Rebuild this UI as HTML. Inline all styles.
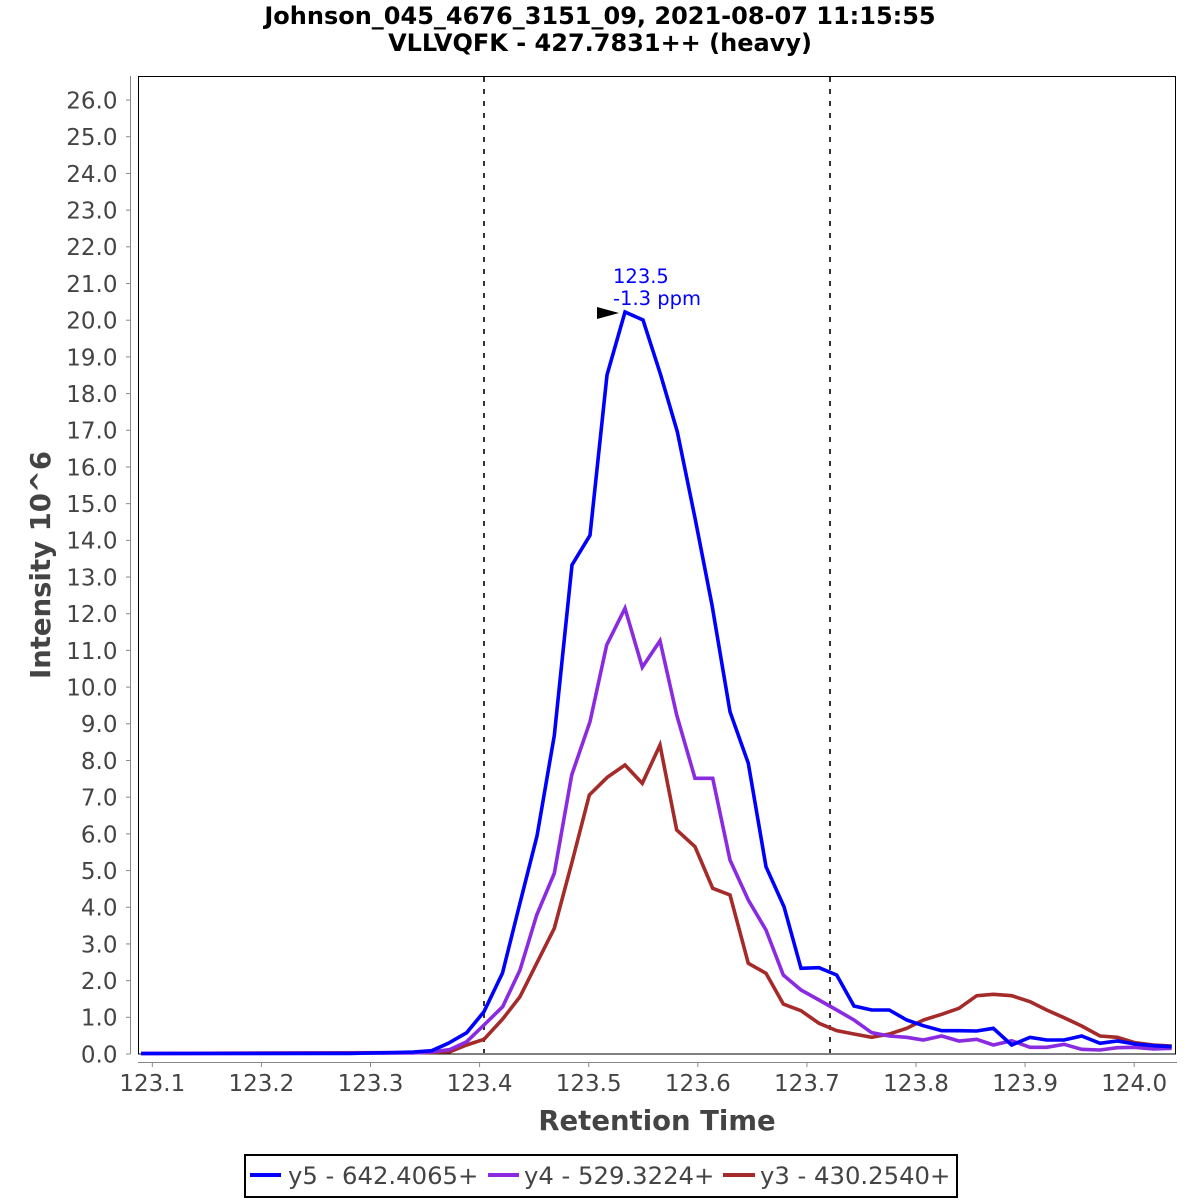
<!DOCTYPE html>
<html><head><meta charset="utf-8"><style>
html,body{margin:0;padding:0;background:#fff;width:1200px;height:1200px;overflow:hidden}
svg{display:block}
text{font-family:"DejaVu Sans","Liberation Sans",sans-serif}
</style></head><body>
<svg width="1200" height="1200" viewBox="0 0 1200 1200" xmlns="http://www.w3.org/2000/svg">
<rect width="1200" height="1200" fill="#fff"/>
<text x="600" y="24" text-anchor="middle" font-size="24" font-weight="bold" fill="#000">Johnson_045_4676_3151_09, 2021-08-07 11:15:55</text>
<text x="600" y="51" text-anchor="middle" font-size="24" font-weight="bold" fill="#000">VLLVQFK - 427.7831++ (heavy)</text>
<rect x="138.5" y="76.5" width="1037" height="977.5" fill="#fff" stroke="#000" stroke-width="1"/>
<g stroke="#888" stroke-width="1" fill="none">
<line x1="130.5" y1="76" x2="130.5" y2="1054"/>
<line x1="138" y1="1062.5" x2="1177" y2="1062.5"/>
</g>
<g id="yt" stroke="#888" stroke-width="1"></g>
<g id="yl" font-size="23" fill="#444" text-anchor="end"></g>
<g id="xt" stroke="#888" stroke-width="1"></g>
<g id="xl" font-size="23" fill="#444" text-anchor="middle"></g>
<g stroke="#333" stroke-width="2" stroke-dasharray="5 7">
<line x1="484" y1="77" x2="484" y2="1053"/>
<line x1="830" y1="77" x2="830" y2="1053"/>
</g>
<g fill="none" stroke-width="3.6" stroke-linejoin="miter" stroke-miterlimit="4">
<polyline stroke="#a52a2a" points="141,1053.5 431.7,1052.5 450,1051.7 466.7,1045 484,1039.3 502.7,1019 520,996.7 536.7,963.3 554.3,928.3 571.7,863.3 589.3,795 607.3,777.3 625,765 642.3,783.3 660,745 676.7,830 695,846.7 712.7,888.3 730,895 748.3,963.3 766,973.3 783.3,1004 801,1010.7 819,1023.3 836.7,1030.7 854,1034 871.7,1037.3 889.3,1034 906.7,1028.3 923.3,1020 941.7,1014.3 959,1008.3 976.7,995.7 993.3,994.3 1011.7,995.7 1030,1001.7 1046.7,1010 1064,1017.7 1081.7,1026 1100,1036 1117.3,1037.3 1135,1042.7 1153.3,1045 1171.7,1046"/>
<polyline stroke="#8a2be2" points="141,1053.5 413,1053 431.7,1052 450,1049.5 466.7,1041.7 484,1025 502.7,1006.7 520,970 536.7,915 554.3,873.3 571.7,775 590,721.7 606.7,645 625,608.3 642.3,667.3 660,640.7 676.7,715 695,778.3 712.7,778.3 730,860 748.3,900 766,930 783.3,975 801,990 819,1000 836.7,1010 854,1020 871.7,1032.7 889.3,1036 906.7,1037.3 923.3,1040 941.7,1036 959,1041 976.7,1039.3 993.3,1045 1011.7,1040.7 1030,1047.3 1046.7,1047.3 1064,1044.3 1081.7,1049.3 1100,1050 1117.3,1047.7 1135,1047.3 1153.3,1049 1171.7,1048.3"/>
<polyline stroke="#0000ff" points="141,1053.5 350,1053.5 370,1053 395,1052.5 413,1052 431.7,1050.7 448.3,1043.3 466.7,1032.7 484,1011.7 502.5,973 519.5,905 537,836 554.3,735.5 572,565 590,535.3 607,375 625,312 643,320 660.7,375 677.3,431.7 695,518 712,605 730,711.7 748.3,763.3 766,866.7 784,906.7 801,968.3 819,967.7 836.7,975 854,1006 871.7,1010 889.3,1010 906.7,1020 923.3,1025.7 941.7,1030.7 959,1030.7 976.7,1031 993.3,1028.3 1011.7,1045 1030,1037.3 1046.7,1040 1064,1040 1081.7,1036 1100,1043.3 1117.3,1041 1135,1044 1153.3,1045.7 1171.7,1046.7"/>
</g>
<polygon points="597,307 619,313 597,319" fill="#000"/>
<text x="613" y="283" font-size="19.5" fill="#0000ff">123.5</text>
<text x="613" y="305" font-size="19.5" fill="#0000ff">-1.3 ppm</text>
<text x="657" y="1130" text-anchor="middle" font-size="27.5" font-weight="bold" fill="#444">Retention Time</text>
<text transform="translate(50,565) rotate(-90)" text-anchor="middle" font-size="27.5" font-weight="bold" fill="#444">Intensity 10^6</text>
<rect x="245" y="1155" width="712" height="42" fill="#fff" stroke="#000" stroke-width="2"/>
<line x1="250" y1="1175" x2="281" y2="1175" stroke="#0000ff" stroke-width="4"/>
<text x="288" y="1184" font-size="24.3" fill="#444">y5 - 642.4065+</text>
<line x1="488" y1="1175" x2="519" y2="1175" stroke="#8a2be2" stroke-width="4"/>
<text x="524" y="1184" font-size="24.3" fill="#444">y4 - 529.3224+</text>
<line x1="723" y1="1175" x2="755" y2="1175" stroke="#a52a2a" stroke-width="4"/>
<text x="760" y="1184" font-size="24.3" fill="#444">y3 - 430.2540+</text>
</svg>
<script>
(function(){
var ns="http://www.w3.org/2000/svg";
var yt=document.getElementById("yt"),yl=document.getElementById("yl"),xt=document.getElementById("xt"),xl=document.getElementById("xl");
for(var v=0;v<=26;v++){
 var y=1054-v*36.69;
 var l=document.createElementNS(ns,"line");
 l.setAttribute("x1",126);l.setAttribute("x2",130.5);l.setAttribute("y1",y);l.setAttribute("y2",y);yt.appendChild(l);
 var t=document.createElementNS(ns,"text");
 t.setAttribute("x",117.5);t.setAttribute("y",(y+8.4).toFixed(1));t.textContent=v.toFixed(1);yl.appendChild(t);
}
var labs=["123.1","123.2","123.3","123.4","123.5","123.6","123.7","123.8","123.9","124.0"];
for(var k=0;k<10;k++){
 var x=152.3+k*109.1;
 var l2=document.createElementNS(ns,"line");
 l2.setAttribute("x1",x);l2.setAttribute("x2",x);l2.setAttribute("y1",1062.5);l2.setAttribute("y2",1067);xt.appendChild(l2);
 var t2=document.createElementNS(ns,"text");
 t2.setAttribute("x",x);t2.setAttribute("y",1091);t2.textContent=labs[k];xl.appendChild(t2);
}
})();
</script>
</body></html>
